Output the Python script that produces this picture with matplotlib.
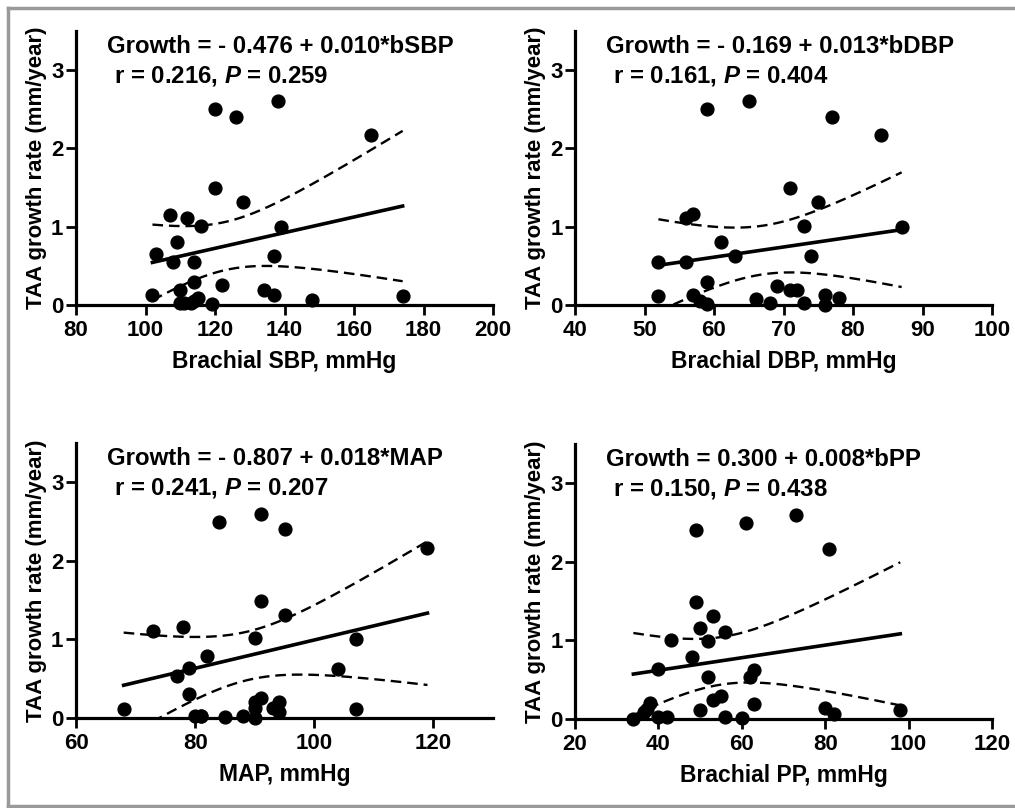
import numpy as np
import matplotlib
matplotlib.use("Agg")
import matplotlib.pyplot as plt
from matplotlib.lines import Line2D

plt.rcParams['font.family'] = ['Liberation Sans', 'DejaVu Sans']
plt.rcParams['font.weight'] = 'bold'
plt.rcParams['mathtext.fontset'] = 'custom'
plt.rcParams['mathtext.it'] = 'Liberation Sans:italic:bold'
plt.rcParams['mathtext.rm'] = 'Liberation Sans:bold'

# growth rate (mm/year) against each blood pressure measure
sbp_x = [103, 102, 107, 108, 109, 110, 110, 111, 112, 113, 114, 114, 115, 114, 116, 119,
         120, 120, 122, 126, 128, 134, 137, 138, 137, 139, 148, 165, 174]
sbp_y = [0.65, 0.13, 1.15, 0.545, 0.80, 0.19, 0.02, 0.03, 1.11, 0.02, 0.545, 0.29, 0.09, 0.05, 1.01, 0.01,
         2.51, 1.49, 0.25, 2.40, 1.31, 0.19, 0.62, 2.60, 0.13, 1.00, 0.07, 2.17, 0.12]

dbp_x = [52, 52, 56, 57, 56, 57, 58, 59, 59, 59, 61, 63, 65, 66, 68, 69, 71, 71, 72, 73,
         73, 74, 75, 76, 76, 77, 78, 84, 87]
dbp_y = [0.545, 0.12, 1.11, 1.16, 0.545, 0.13, 0.05, 2.51, 0.29, 0.01, 0.80, 0.63, 2.60, 0.08, 0.03, 0.24,
         1.49, 0.19, 0.19, 1.01, 0.03, 0.63, 1.31, 0.13, 0.0, 2.40, 0.09, 2.17, 1.00]

map_x = [68, 73, 77, 78, 79, 79, 80, 81, 81, 82, 84, 85, 88, 90, 90, 90, 90, 91, 91, 91,
         93, 94, 94, 95, 95, 104, 107, 107, 119]
map_y = [0.12, 1.11, 0.54, 1.16, 0.64, 0.30, 0.03, 0.03, 0.02, 0.79, 2.50, 0.01, 0.03, 1.02, 0.20, 0.13, 0.0,
         2.60, 1.49, 0.25, 0.13, 0.20, 0.08, 2.40, 1.31, 0.63, 1.00, 0.12, 2.17]

pp_x = [34, 36.6, 37.2, 38, 40, 40, 42, 43, 48, 49, 49, 50, 50, 52, 52, 53, 53, 55, 56, 56,
        60, 61, 62, 63, 63, 73, 80, 81, 82, 98]
pp_y = [0.0, 0.09, 0.13, 0.20, 0.64, 0.02, 0.02, 1.01, 0.79, 2.40, 1.49, 1.16, 0.12, 0.99, 0.54, 1.31, 0.24,
        0.29, 1.11, 0.03, 0.01, 2.50, 0.54, 0.62, 0.19, 2.60, 0.14, 2.16, 0.07, 0.12]

# printed regression coefficients
intercepts = [-0.476, -0.169, -0.807, 0.300]
slopes = [0.010, 0.013, 0.018, 0.008]
equations = ["Growth = - 0.476 + 0.010*bSBP", "Growth = - 0.169 + 0.013*bDBP",
             "Growth = - 0.807 + 0.018*MAP", "Growth = 0.300 + 0.008*bPP"]
stats = [r"r = 0.216, $\it{P}$ = 0.259", r"r = 0.161, $\it{P}$ = 0.404",
         r"r = 0.241, $\it{P}$ = 0.207", r"r = 0.150, $\it{P}$ = 0.438"]
xlabels = ["Brachial SBP, mmHg", "Brachial DBP, mmHg", "MAP, mmHg", "Brachial PP, mmHg"]
xlims = [(80, 200), (40, 100), (60, 130), (20, 120)]
xticks = [range(80, 201, 20), range(40, 101, 10), range(60, 121, 20), range(20, 121, 20)]

W, H = 1015, 808
fig = plt.figure(figsize=(W / 100, H / 100), dpi=100)

# axes boxes in pixels: left, x-axis baseline, width, height
boxes = [(76, 305, 417, 274), (575, 305, 417, 274), (76, 718, 417, 275), (575, 719, 417, 275)]
data = [(sbp_x, sbp_y), (dbp_x, dbp_y), (map_x, map_y), (pp_x, pp_y)]

for i in range(4):
    l, b, w, h = boxes[i]
    ax = fig.add_axes([l / W, 1 - b / H, w / W, h / H])
    x = np.array(data[i][0], float)
    y = np.array(data[i][1], float)

    ax.scatter(x, y, s=85, color='black', zorder=3, clip_on=False)

    # regression line and 95% confidence band
    xs = np.linspace(x.min(), x.max(), 200)
    fit = intercepts[i] + slopes[i] * xs
    n = len(x)
    resid = y - (intercepts[i] + slopes[i] * x)
    s = np.sqrt(np.sum(resid ** 2) / (n - 2))
    sxx = np.sum((x - x.mean()) ** 2)
    hw = 2.05 * s * np.sqrt(1 / n + (xs - x.mean()) ** 2 / sxx)
    ax.plot(xs, fit, color='black', lw=2.6)
    ax.plot(xs, fit + hw, color='black', lw=1.7, ls=(0, (4.5, 2.5)))
    ax.plot(xs, fit - hw, color='black', lw=1.7, ls=(0, (4.5, 2.5)))

    ax.set_xlim(*xlims[i])
    ax.set_ylim(0, 3.5)
    ax.set_xticks(list(xticks[i]))
    ax.set_yticks([0, 1, 2, 3])
    for sp in ['top', 'right']:
        ax.spines[sp].set_visible(False)
    for sp in ['left', 'bottom']:
        ax.spines[sp].set_linewidth(2.3)
    ax.tick_params(width=2, length=7, labelsize=16, pad=2)
    ax.tick_params(axis='x', pad=4)
    ax.set_xlabel(xlabels[i], fontsize=16.5, fontweight='bold', labelpad=6)
    ax.set_ylabel("TAA growth rate (mm/year)", fontsize=16, fontweight='bold', labelpad=3)

    ax.text(0.075, 0.945, equations[i], transform=ax.transAxes, fontsize=17.3,
            fontweight='bold', va='center', ha='left')
    ax.text(0.09, 0.836, stats[i], transform=ax.transAxes, fontsize=17.3,
            fontweight='bold', va='center', ha='left')

# grey frame round the figure (no right edge)
fc = '#9a9a9a'
fig.add_artist(Line2D([8 / W, 1], [1 - 8 / H, 1 - 8 / H], color=fc, lw=2.5, transform=fig.transFigure))
fig.add_artist(Line2D([8 / W, 8 / W], [1 - 8 / H, 1 - 806 / H], color=fc, lw=2.5, transform=fig.transFigure))
fig.add_artist(Line2D([8 / W, 1], [1 - 806 / H, 1 - 806 / H], color=fc, lw=2.5, transform=fig.transFigure))

fig.savefig("out.png", dpi=100)
